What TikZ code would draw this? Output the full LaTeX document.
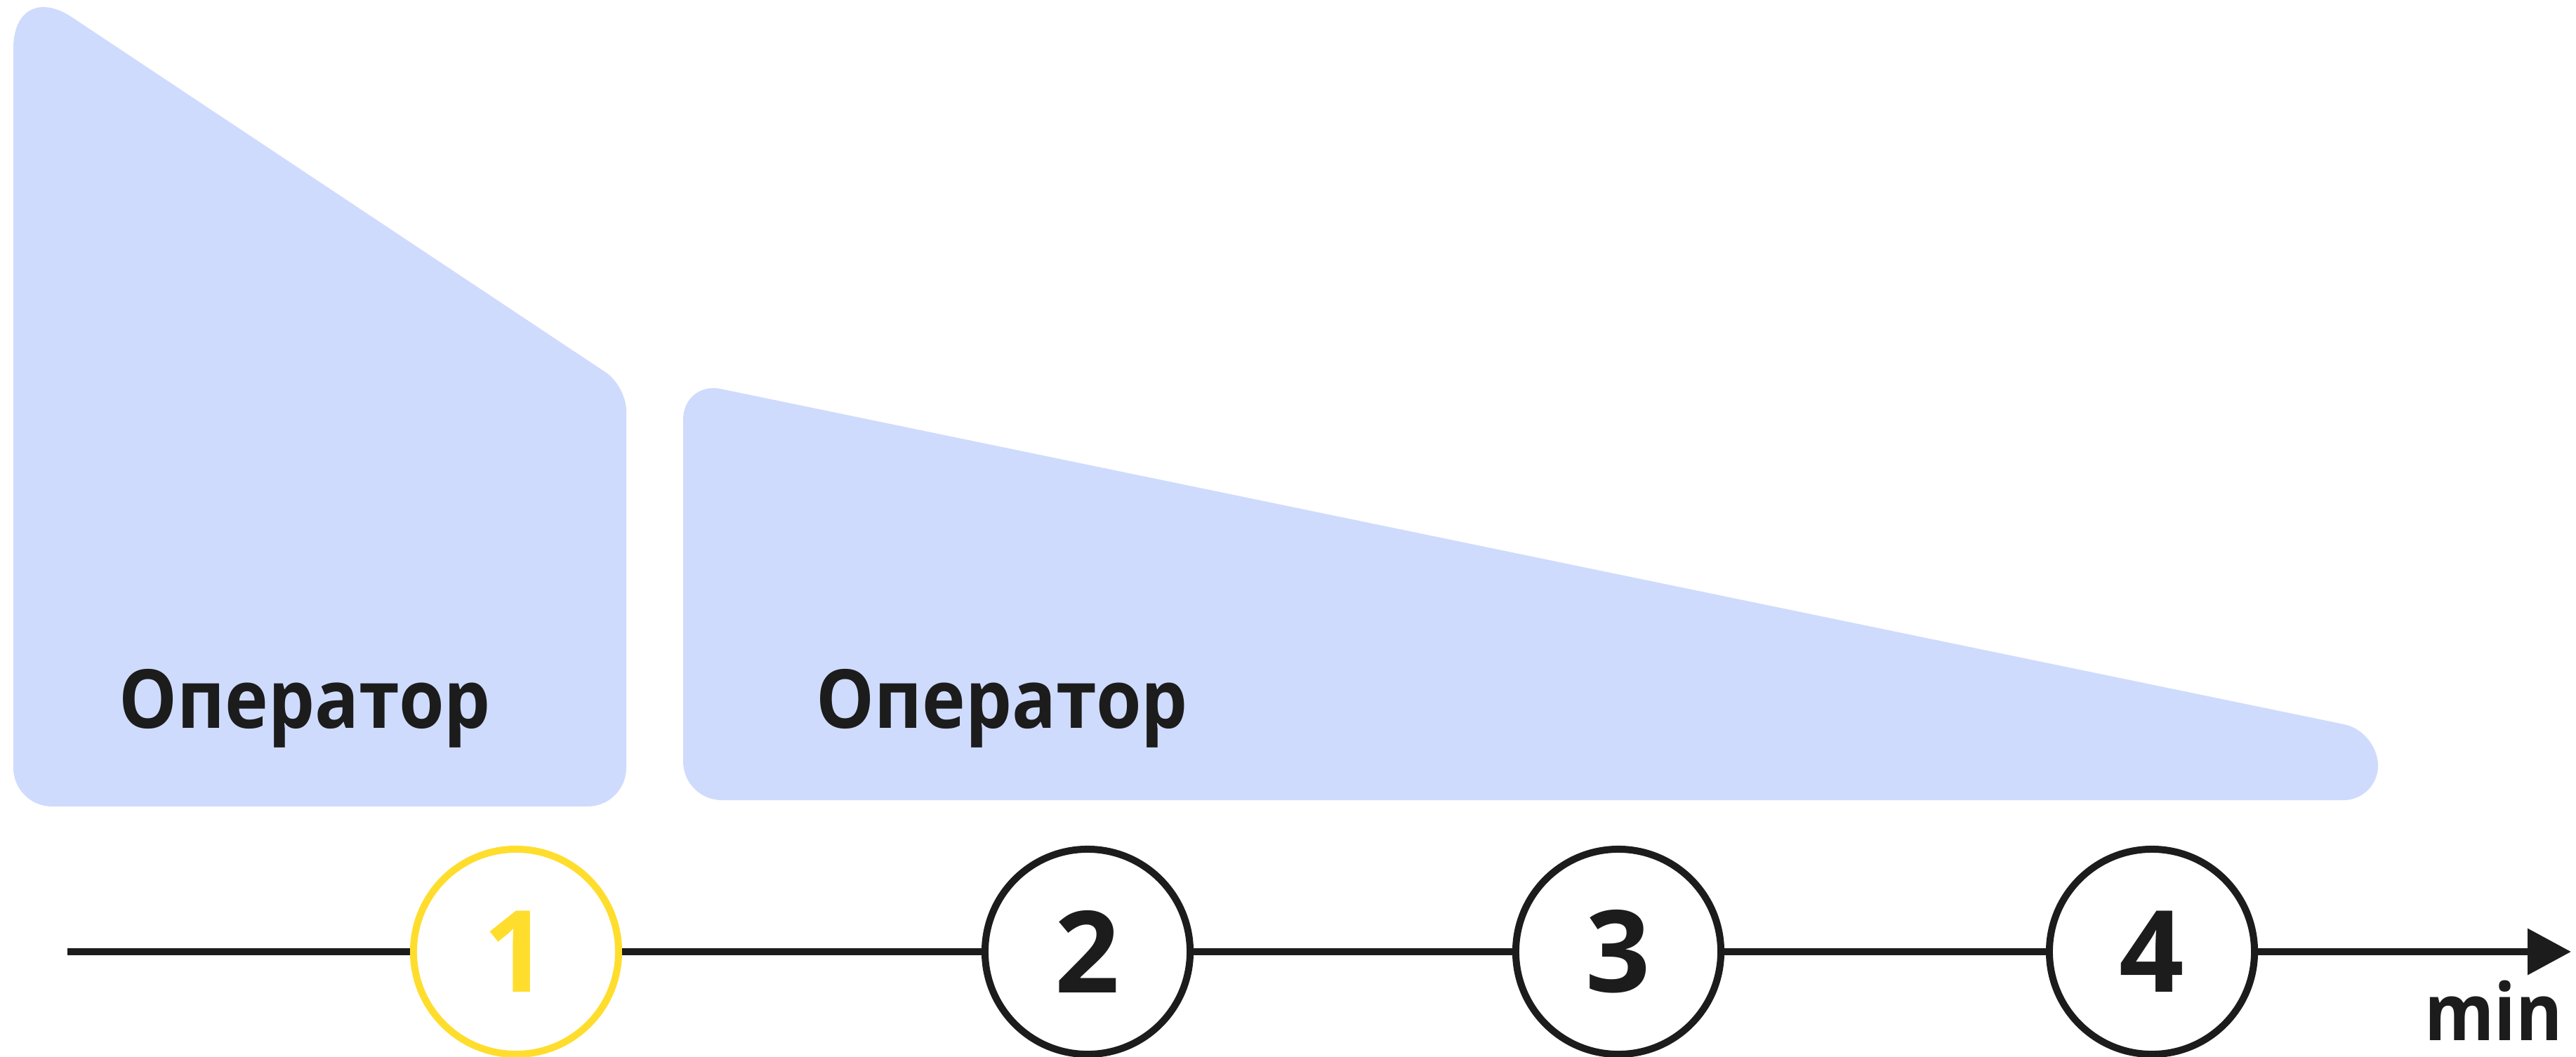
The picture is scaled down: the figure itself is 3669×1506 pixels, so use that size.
\documentclass[tikz,border=0pt]{standalone}
\usepackage{fontspec}
\setmainfont{Open Sans}[FakeStretch=0.9]
\newfontfamily\digitfont{Open Sans}
\usepackage{xcolor}
\usetikzlibrary{arrows.meta,positioning}

\definecolor{panel}{HTML}{CFDBFD}
\definecolor{ink}{HTML}{1C1C1C}
\definecolor{mark}{HTML}{FFDD2D}

\tikzset{
    tick/.style={circle,draw=ink,line width=0.1cm,fill=white,minimum size=2.92cm,
        inner sep=0pt,text=ink,font=\digitfont\fontsize{46}{46}\selectfont\bfseries},
    label/.style={text=ink,font=\fontsize{33}{33}\selectfont\bfseries,inner sep=0pt},
    axis/.style={draw=ink,line width=0.1cm}
}

\begin{document}
\begin{tikzpicture}[x=0.01cm,y=-0.01cm]
    \useasboundingbox (0,0) rectangle (3669,1506);

    % Operator panels
    \fill[panel] (450,1149) [rounded corners=0.55cm] -- (19,1149)
        [rounded corners=1cm] -- (19,-31)
        [rounded corners=0.35cm] -- (892,550)
        [rounded corners=0.55cm] -- (892,1149) -- cycle;
    \fill[panel] (2000,1140) [rounded corners=0.55cm] -- (973,1140) -- (973,543)
        [rounded corners=0.49cm] -- (3387,1042) -- (3387,1140) -- cycle;

    % Panel labels
    \node[label,anchor=base] (op1) at (434,1037) {Оператор};
    \node[label,anchor=base] (op2) at (1427,1037) {Оператор};

    % Timeline
    \coordinate (start) at (96,1356);
    \coordinate (end) at (3662,1356);
    \node[tick,draw=mark,text=mark] (t1) at (735,1356) {1};
    \node[tick] (t2) at (1549,1356) {2};
    \node[tick] (t3) at (2305,1356) {3};
    \node[tick] (t4) at (3065,1356) {4};

    \draw[axis] (start) -- (t1);
    \draw[axis] (t1) -- (t2);
    \draw[axis] (t2) -- (t3);
    \draw[axis] (t3) -- (t4);
    \draw[axis,-{Triangle[length=0.62cm,width=0.64cm]}] (t4) -- (end);

    % Unit
    \node[label,anchor=base east,font=\fontsize{32}{32}\selectfont\bfseries] (unit) at (3651,1482) {min};
\end{tikzpicture}
\end{document}
